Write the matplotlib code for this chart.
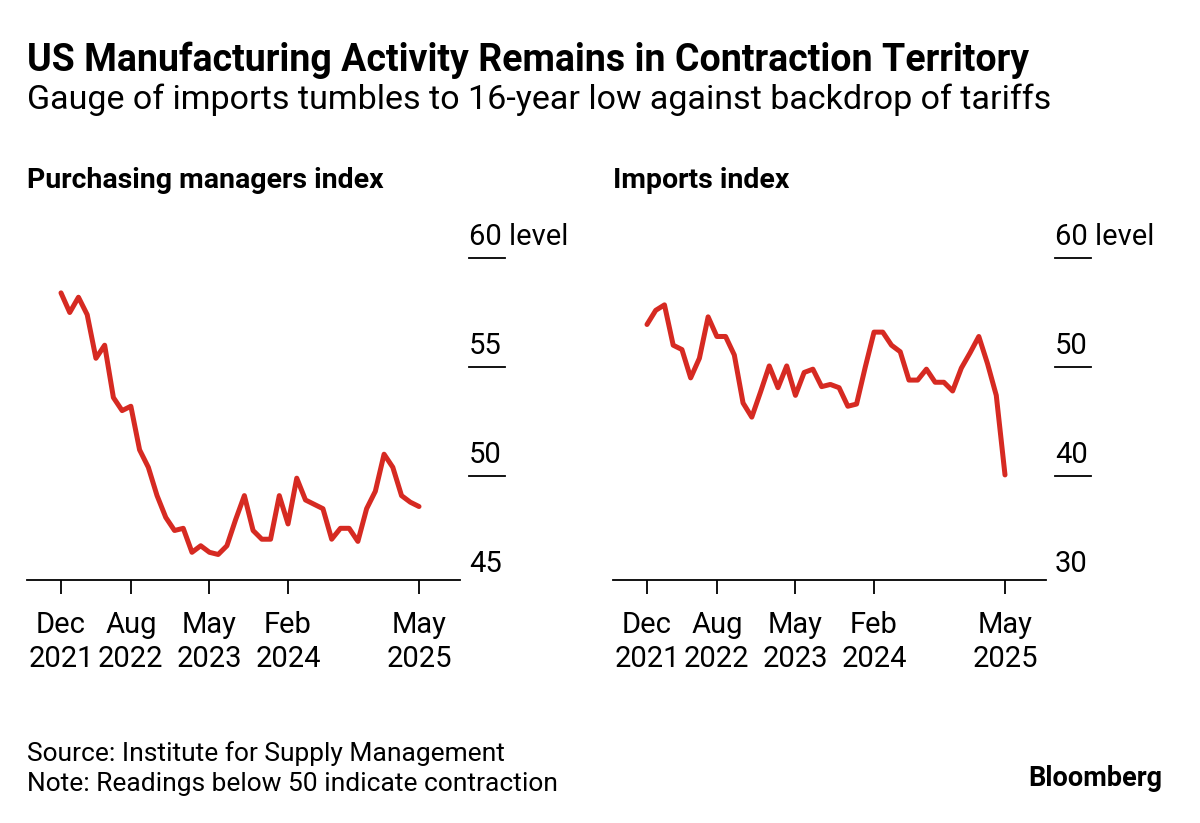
import matplotlib
matplotlib.use("Agg")
import matplotlib.pyplot as plt
from matplotlib.transforms import blended_transform_factory, offset_copy

plt.rcParams['font.family'] = ['Roboto', 'DejaVu Sans']

# monthly readings, Dec 2021 .. May 2025 (42 months)
pmi = [58.4, 57.5, 58.2, 57.4, 55.4, 56.0, 53.6, 53.0, 53.2, 51.2, 50.4, 49.1,
       48.1, 47.5, 47.6, 46.5, 46.8, 46.5, 46.4, 46.8, 48.0, 49.1, 47.5, 47.1,
       47.1, 49.1, 47.8, 49.9, 48.9, 48.7, 48.5, 47.1, 47.6, 47.6, 47.0, 48.5,
       49.3, 51.0, 50.4, 49.1, 48.8, 48.6]
imports = [53.9, 55.2, 55.7, 52.0, 51.6, 49.0, 50.8, 54.6, 52.8, 52.8, 51.1, 46.7,
           45.4, 47.7, 50.1, 48.1, 50.1, 47.4, 49.5, 49.8, 48.2, 48.4, 48.1, 46.4,
           46.6, 50.0, 53.2, 53.2, 52.0, 51.4, 48.8, 48.8, 49.8, 48.6, 48.6, 47.8,
           49.9, 51.3, 52.8, 50.3, 47.4, 40.1]
tick_pos = [0, 8, 17, 26, 41]
tick_labels = ["Dec\n2021", "Aug\n2022", "May\n2023", "Feb\n2024", "May\n2025"]
pmi_levels = [60, 55, 50, 45]
imp_levels = [60, 50, 40, 30]

W, H = 1200, 823
fig = plt.figure(figsize=(12, 8.23), dpi=100)
red = "#d62a22"


def px_ax(x0, x1, y_top, y_bot):
    return fig.add_axes([x0 / W, 1 - y_bot / H, (x1 - x0) / W, (y_bot - y_top) / H])


def panel(x0, x1, x_first, x_last, values, levels, title, label_x):
    ax = px_ax(x0, x1, 258, 580)
    step = (x_last - x_first) / 41
    ax.set_xlim(-(x_first - x0) / step, 41 + (x1 - x_last) / step)
    top, bot = levels[0], levels[-1]
    unit = (top - levels[1]) / 109.0
    ax.set_ylim(top - 322 * unit, top)
    ax.plot(range(len(values)), values, color=red, lw=3.6, solid_joinstyle='round',
            solid_capstyle='round', clip_on=False)
    for s in ['top', 'right', 'left']:
        ax.spines[s].set_visible(False)
    ax.spines['bottom'].set_linewidth(1.3)
    ax.set_yticks([])
    ax.set_xticks(tick_pos)
    ax.set_xticklabels(tick_labels, fontsize=21, linespacing=1.3)
    ax.tick_params(axis='x', length=10, width=1.3, pad=12, direction='out')
    tr = blended_transform_factory(fig.transFigure, ax.transData)
    tr_up = offset_copy(tr, fig=fig, y=7, units='dots')
    for i, lv in enumerate(levels):
        txt = f"{lv} level" if i == 0 else f"{lv}"
        ax.text(label_x / W, lv, txt, transform=tr_up, fontsize=21, ha='left', va='bottom')
        if lv != bot:
            ax.plot([(label_x) / W, (label_x + 36) / W], [lv, lv], transform=tr,
                    color='black', lw=1.3, clip_on=False)
    fig.text(x0 / W, 1 - 180 / H, title, fontsize=20.5, fontweight='bold', va='center')
    return ax


panel(27, 460, 61, 419, pmi, pmi_levels, "Purchasing managers index", 469)
panel(613, 1046, 647, 1005, imports, imp_levels, "Imports index", 1055)

fig.text(27 / W, 1 - 60 / H, "US Manufacturing Activity Remains in Contraction Territory",
         fontsize=27, fontweight='bold', va='center')
fig.text(27 / W, 1 - 100 / H, "Gauge of imports tumbles to 16-year low against backdrop of tariffs",
         fontsize=24.5, va='center')
fig.text(27 / W, 1 - 754 / H, "Source: Institute for Supply Management", fontsize=19, va='center')
fig.text(27 / W, 1 - 784 / H, "Note: Readings below 50 indicate contraction", fontsize=19, va='center')
fig.text(1162 / W, 1 - 779 / H, "Bloomberg", fontsize=19.5, fontweight='bold', ha='right', va='center')

fig.savefig("out.png", dpi=100, facecolor='white')
